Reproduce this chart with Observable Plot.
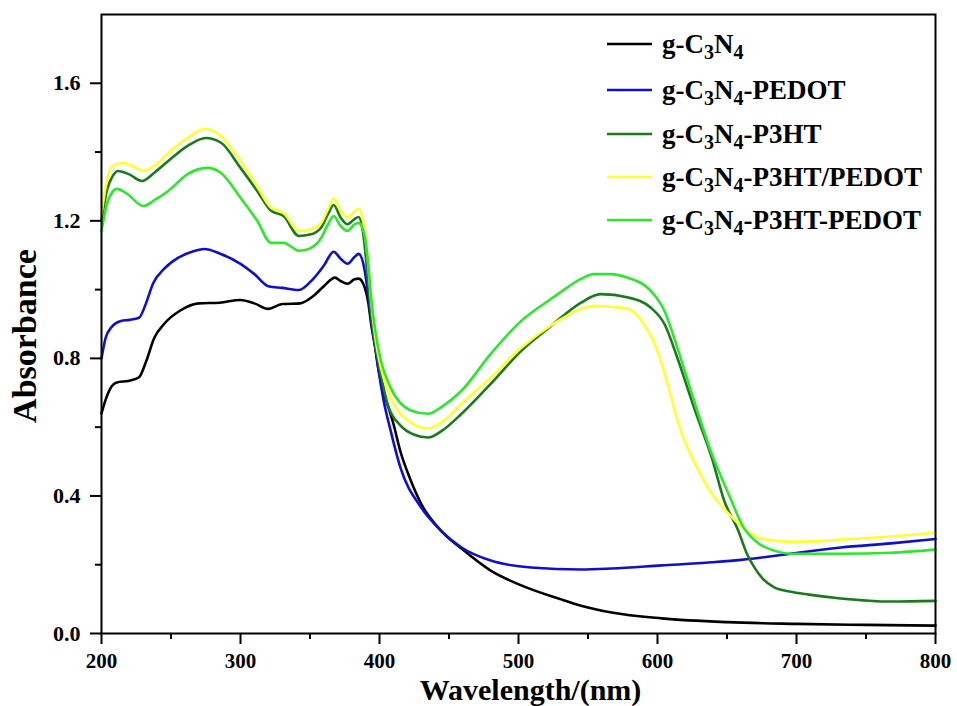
<!DOCTYPE html>
<html><head><meta charset="utf-8">
<script src="https://cdn.jsdelivr.net/npm/d3@7"></script>
<script src="https://cdn.jsdelivr.net/npm/@observablehq/plot@0.6"></script>
<style>body{margin:0;background:#fff}</style>
</head><body><div id="chart"></div>
<script>
const seriesNames = ["g-C3N4", "g-C3N4-PEDOT", "g-C3N4-P3HT", "g-C3N4-P3HT/PEDOT", "g-C3N4-P3HT-PEDOT"];
const seriesColors = ["#000000", "#1010cc", "#1b7a1b", "#ffff33", "#2ee62e"];

const wlBlack = [200,203,206,211,220,227,232,238,245,257,270,285,300,310,320,330,343,352,360,368,372,377,382,385,389,392,394,397,399,403,407,410,415,422,430,444,459,480,502,530,545,567,603,650,700,750,800];
const absBlack = [0.64,0.68,0.71,0.73,0.735,0.745,0.79,0.86,0.9,0.94,0.96,0.962,0.97,0.96,0.944,0.958,0.96,0.98,1.01,1.035,1.025,1.017,1.03,1.032,1.01,0.96,0.90,0.83,0.775,0.70,0.65,0.61,0.53,0.45,0.377,0.30,0.247,0.183,0.14,0.10,0.081,0.061,0.044,0.033,0.028,0.025,0.023];

const wlBlue = [200,203,207,214,220,227,232,237,245,255,265,274,285,300,310,320,330,342,352,360,367,372,377,382,385,389,392,394,397,399,403,408,415,430,444,459,480,509,545,567,603,639,660,675,696,732,768,800];
const absBlue = [0.80,0.86,0.89,0.909,0.912,0.918,0.96,1.017,1.06,1.092,1.11,1.118,1.105,1.075,1.045,1.01,1.005,0.999,1.03,1.07,1.11,1.09,1.075,1.095,1.104,1.063,0.98,0.91,0.83,0.773,0.677,0.59,0.483,0.366,0.30,0.25,0.212,0.192,0.186,0.189,0.198,0.207,0.214,0.221,0.232,0.25,0.262,0.275];

const wlP3HT = [200,204,208,212,220,229,238,248,262,275,286,300,312,322,331,342,350,358,363,367,372,377,382,385,388,391,394,397,400,406,415,425,435,445,459,480,502,523,531,545,559,579,595,605,615,627,639,648,658,664,670,676,684,695,709,732,768,800];
const absP3HT = [1.2,1.29,1.33,1.345,1.335,1.316,1.34,1.374,1.418,1.441,1.427,1.354,1.287,1.229,1.214,1.156,1.16,1.18,1.22,1.246,1.21,1.19,1.205,1.211,1.17,1.06,0.93,0.84,0.773,0.665,0.605,0.578,0.57,0.59,0.639,0.726,0.822,0.893,0.92,0.962,0.987,0.977,0.948,0.90,0.793,0.648,0.512,0.386,0.30,0.235,0.19,0.158,0.134,0.122,0.113,0.102,0.093,0.095];

const wlP3HTslashPEDOT = [200,204,208,215,222,230,238,248,262,274,284,300,312,322,331,342,350,358,363,367,372,377,382,385,389,392,394,397,401,408,420,435,445,459,480,502,523,531,545,554,566,579,590,597,603,609,615,627,639,651,662,672,684,696,715,732,768,800];
const absP3HTslashPEDOT = [1.22,1.32,1.36,1.368,1.36,1.345,1.36,1.397,1.441,1.467,1.452,1.374,1.3,1.238,1.223,1.171,1.175,1.194,1.235,1.264,1.23,1.209,1.228,1.235,1.18,1.07,0.967,0.86,0.773,0.686,0.62,0.596,0.615,0.668,0.744,0.831,0.895,0.915,0.944,0.953,0.95,0.944,0.90,0.85,0.784,0.70,0.61,0.494,0.407,0.349,0.305,0.279,0.27,0.267,0.268,0.273,0.282,0.293];

const wlP3HTdashPEDOT = [200,204,208,211,218,230,238,248,262,276,286,300,312,322,331,342,350,358,363,367,372,377,382,385,389,392,394,397,401,408,423,435,445,459,480,502,523,531,545,554,566,579,595,605,615,627,639,651,662,672,684,696,732,768,800];
const absP3HTdashPEDOT = [1.171,1.25,1.285,1.293,1.28,1.243,1.26,1.287,1.336,1.354,1.339,1.267,1.2,1.136,1.136,1.113,1.12,1.15,1.19,1.214,1.185,1.171,1.19,1.194,1.162,1.07,0.976,0.88,0.793,0.715,0.648,0.639,0.66,0.706,0.813,0.909,0.972,0.995,1.031,1.045,1.045,1.034,0.997,0.938,0.822,0.668,0.523,0.407,0.308,0.264,0.241,0.232,0.232,0.235,0.244];

const xTicks = [200,300,400,500,600,700,800];
const xMinorTicks = [250,350,450,550,650,750];
const yTicks = [0.0,0.4,0.8,1.2,1.6];
const yMinorTicks = [0.2,0.6,1.0,1.4];

const seriesData = [
  [wlBlack, absBlack],
  [wlBlue, absBlue],
  [wlP3HT, absP3HT],
  [wlP3HTslashPEDOT, absP3HTslashPEDOT],
  [wlP3HTdashPEDOT, absP3HTdashPEDOT]
];
const rows = [];
seriesData.forEach(([wl, ab], i) => wl.forEach((w, j) => rows.push({series: seriesNames[i], wl: w, abs: ab[j]})));

const font = "'Liberation Serif','Times New Roman',serif";
const plot = Plot.plot({
  width: 957, height: 706,
  marginLeft: 101, marginRight: 22, marginTop: 14, marginBottom: 73,
  style: {fontFamily: font, fontWeight: "bold", fontSize: "22px", color: "#000", background: "#fff"},
  x: {domain: [200, 800]},
  y: {domain: [0, 1.8]},
  color: {domain: seriesNames, range: seriesColors},
  marks: [
    Plot.line(rows, {x: "wl", y: "abs", z: "series", stroke: "series", strokeWidth: 2.6, curve: "monotone-x"}),
    Plot.frame({stroke: "#000", strokeWidth: 2}),
    Plot.axisX({ticks: xTicks, tickSize: 11, tickPadding: 9, tickFormat: d => String(d), label: null, strokeWidth: 2, fontSize: 21, fontWeight: "bold"}),
    Plot.axisX({ticks: xMinorTicks, tickSize: 6, tickFormat: () => "", label: null, strokeWidth: 2}),
    Plot.axisY({ticks: yTicks, tickSize: 11, tickPadding: 10, tickFormat: d => d.toFixed(1), label: null, strokeWidth: 2, fontSize: 22, fontWeight: "bold"}),
    Plot.axisY({ticks: yMinorTicks, tickSize: 6, tickFormat: () => "", label: null, strokeWidth: 2}),
    Plot.text(["Absorbance"], {text: d => d, frameAnchor: "left", textAnchor: "middle", lineAnchor: "middle", dx: -76, dy: 12, rotate: -90, fontSize: 34, fontWeight: "bold", fill: "#000"}),
    Plot.text(["Wavelength/(nm)"], {text: d => d, frameAnchor: "bottom", textAnchor: "middle", lineAnchor: "middle", dx: 12, dy: 57, fontSize: 30, fontWeight: "bold", fill: "#000"})
  ]
});
document.getElementById("chart").appendChild(plot);

// legend with subscripts
const svg = d3.select(plot);
const lg = svg.append("g").attr("font-family", font).attr("font-weight", "bold").attr("font-size", 27).attr("text-anchor", "start");
const rowY = [44, 90, 134, 177, 220];
seriesNames.forEach((name, i) => {
  const y = rowY[i];
  lg.append("line").attr("x1", 607).attr("x2", 652).attr("y1", y).attr("y2", y)
    .attr("stroke", seriesColors[i]).attr("stroke-width", 2.6);
  const t = lg.append("text").attr("x", 662).attr("y", y + 9).attr("fill", "#000");
  const parts = name.split(/(?<=[CN])(\d)/);
  let shifted = false;
  parts.forEach((p, k) => {
    if (!p) return;
    const isSub = k % 2 === 1;
    const ts = t.append("tspan").text(p);
    if (isSub) { ts.attr("font-size", 20); if (!shifted) { ts.attr("dy", 6); shifted = true; } }
    else if (shifted) { ts.attr("dy", -6); shifted = false; }
  });
});
</script>
</body></html>
